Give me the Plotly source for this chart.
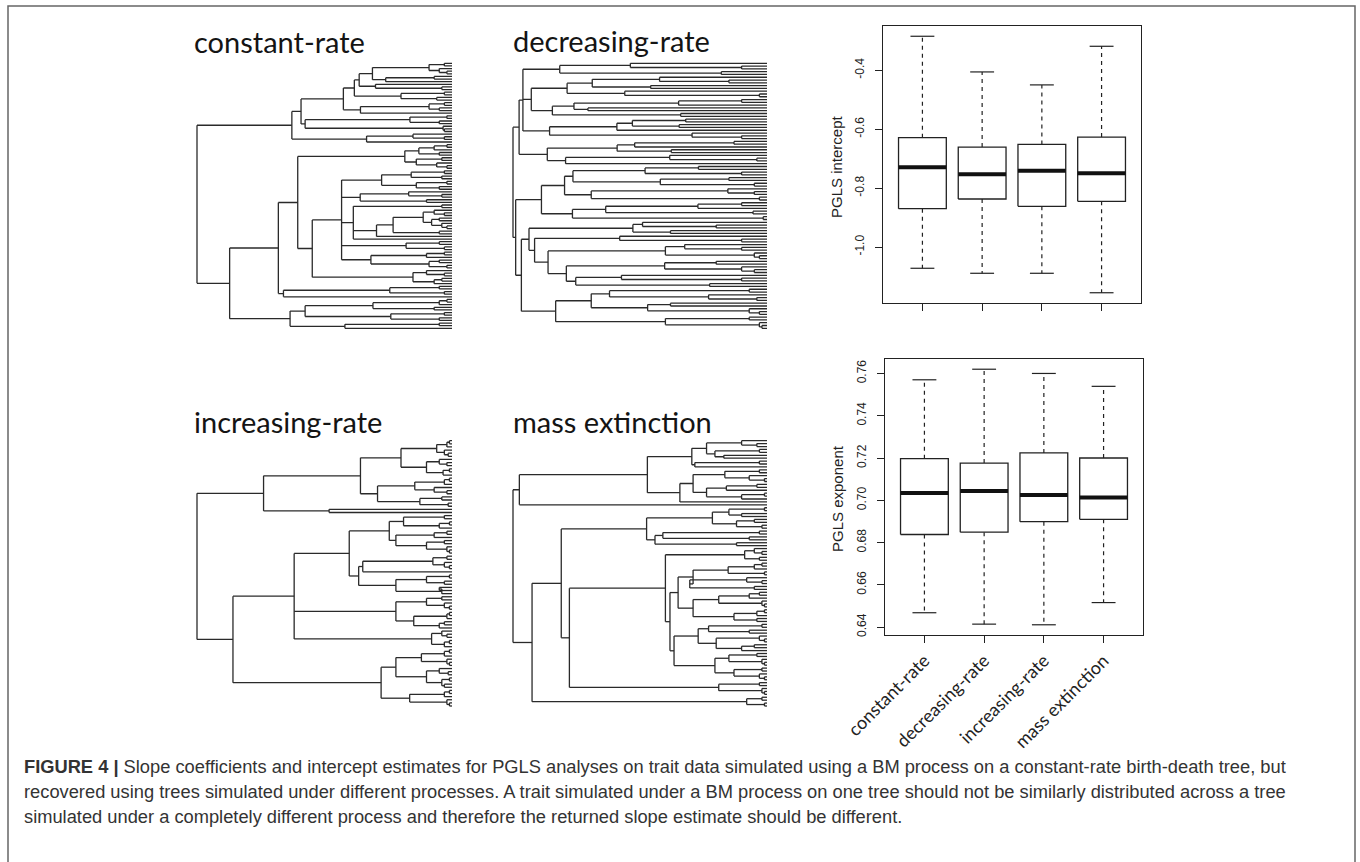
import re
import plotly.graph_objects as go

W, H = 1360, 862

# ------------------------------------------------------------------ data
CATEGORIES = ["constant-rate", "decreasing-rate", "increasing-rate", "mass extinction"]

# PGLS intercept (boxplot statistics)
INTERCEPT_LOW = [-1.072, -1.089, -1.089, -1.155]
INTERCEPT_Q1 = [-0.870, -0.837, -0.862, -0.845]
INTERCEPT_MED = [-0.729, -0.753, -0.741, -0.750]
INTERCEPT_Q3 = [-0.629, -0.661, -0.652, -0.627]
INTERCEPT_HIGH = [-0.285, -0.406, -0.450, -0.319]
INTERCEPT_TICKS = [-1.0, -0.8, -0.6, -0.4]
INTERCEPT_TICKTEXT = ["-1.0", "-0.8", "-0.6", "-0.4"]

# PGLS exponent
EXPONENT_LOW = [0.6468, 0.6414, 0.6411, 0.6516]
EXPONENT_Q1 = [0.6838, 0.6849, 0.6899, 0.6910]
EXPONENT_MED = [0.7035, 0.7044, 0.7025, 0.7013]
EXPONENT_Q3 = [0.7197, 0.7176, 0.7224, 0.7200]
EXPONENT_HIGH = [0.7570, 0.7620, 0.7600, 0.7539]
EXPONENT_TICKS = [0.64, 0.66, 0.68, 0.70, 0.72, 0.74, 0.76]
EXPONENT_TICKTEXT = ["0.64", "0.66", "0.68", "0.70", "0.72", "0.74", "0.76"]

# Trees: newick-like strings, internal node label = node depth (0 = root, 1 = tips)
# constant-rate
CR_Q1 = "((,)0.97,(,(,)0.98)0.95)0.91"
CR_Q2 = "((,)0.93,)0.74"
CR_S = "(,(,)0.96)0.70"
CR_R = "((,)0.97,(,)0.94)0.80"
CR_A1B = "(((,)0.97,(,)0.95)0.91,)0.641"
CR_C = "((,)0.98,(,)0.95)0.835"
CR_D = "(,(,)0.97)0.965"
CR_B = "((,(,)0.97)0.847,)0.665"
CR_M1 = "((((,)0.98,)0.93,(,)0.95)0.87,((,)0.96,(,(,)0.98)0.94)0.86)0.815"
CR_T1 = "(((,)0.97,(,)0.96)0.84,((,)0.98,(,)0.95)0.86)0.724"
CR_T2 = "((,(,)0.96)0.83,(,)0.9)0.64"
CR_X887 = "((,(,)0.97)0.93,((,)0.95,(,(,)0.98)0.96)0.92)0.887"
CR_T4 = "((,)0.95,(,)0.97)0.82"
CR_T5 = "(((,)0.97,)0.9,((,)0.95,(,)0.98)0.91)0.682"
CR_M2B = "((,(,)0.97)0.90,((,)0.96,)0.93)0.847"
CR_N = "(((,)0.95,(,)0.97)0.756,)0.339"
CR_O1 = "((((,)0.98,)0.95,(,)0.93)0.69,((,)0.97,(,)0.95)0.76)0.424"
CR_O2 = "((,)0.95,)0.58"
CR_T3 = f"((,)0.96,(({CR_X887},(,)0.95)0.769,)0.704,)0.613"
CR_UP = (f"(((((({CR_Q1},{CR_Q2})0.688,{CR_S})0.636,{CR_R})0.617,{CR_A1B})0.574,"
         f"({CR_C},{CR_D})0.424)0.408,{CR_B})0.372")
CR_LOW = (f"((({CR_M1},(({CR_T1},{CR_T2},{CR_T3},{CR_T4},{CR_T5})0.567,{CR_M2B})0.452)0.395,"
          f"{CR_N})0.319,({CR_O1},{CR_O2})0.365)0.128")
TREE_CONSTANT = f"({CR_UP},{CR_LOW})0"

# decreasing-rate
DR_C1 = "((,(,)0.9)0.462,(,)0.82)0.184"
DR_C2 = "(((,(,)0.85)0.577,(,)0.542)0.312,(,(,)0.97)0.44)0.213"
DR_C3 = "((((,)0.9,)0.652,(,)0.295)0.24,(,)0.66)0.155"
DR_C4 = "((((,)0.68,(,)0.654)0.47,)0.409,(,(,)0.9)0.705)0.144"
DR_C5 = "((((,)0.87,)0.479,(,)0.623)0.41,((,(,)0.96)0.617,)0.207)0.135"
DR_D1A1 = "(((,)0.73,(,)0.9)0.52,((,)0.85,(,)0.95)0.58)0.236"
DR_D1A2 = "((,(,)0.95)0.846,(,)0.97)0.308"
DR_D1B = "((((,)0.9,)0.728,(,)0.945)0.365,(,)0.985)0.234"
DR_D2A1 = "((,(,)0.8)0.51,(,)0.62)0.472"
DR_D2A2 = "(,(,)0.9)0.42"
DR_D2A3 = "((,(,)0.9)0.676,(,(,)0.97)0.95)0.60"
DR_D2A4 = "(((,)0.8,(,(,)0.95)0.9)0.597,((,(,)0.9)0.427,(,)0.774)0.247)0.21"
DR_D2B1 = "(((,)0.93,(,(,)0.96)0.77)0.38,((,)0.62,(,(,)0.97)0.93)0.53)0.308"
DR_D2B2 = "((,)0.93,(,(,)0.98)0.97)0.6"
DR_UP = f"(({DR_C1},({DR_C2},{DR_C3})0.072,{DR_C4})0.039,{DR_C5})0.024"
DR_D1 = f"(({DR_D1A1},{DR_D1A2})0.203,{DR_D1B})0.112"
DR_D2A = f"({DR_D2A1},({DR_D2A2},({DR_D2A3},{DR_D2A4})0.138)0.085)0.063"
DR_D2 = f"({DR_D2A},({DR_D2B1},{DR_D2B2})0.168)0.033"
TREE_DECREASING = f"({DR_UP},({DR_D1},{DR_D2})0.0105)0"

# increasing-rate
IR_A = "(((,)0.99,)0.98,(,(,)0.985)0.97)0.94"
IR_B = "((,(,)0.98)0.95,((,)0.99,)0.965)0.90"
IR_C = "(((,)0.99,)0.97,(,(,)0.98)0.93)0.854"
IR_D = "((,)0.96,(,)0.985)0.874"
IR_E = "(((,)0.97,((,)0.99,)0.95)0.81,(((,)0.98,)0.93,((,)0.97,(,(,)0.99)0.98)0.9)0.78)0.754"
IR_F = "((((,)0.98,(,(,)0.99)0.97)0.925,)0.65,(((,)0.99,(,)0.97)0.9,((,)0.95,)0.96)0.78)0.634"
IR_G = "(((,)0.96,(,(,)0.99)0.97)0.9,(((,)0.99,)0.98,((,)0.97,)0.95)0.85)0.78"
IR_H = "((,(,)0.98)0.96,((,)0.99,)0.97)0.92"
IR_I = "((((,)0.99,)0.97,(,(,)0.99)0.98)0.88,((,(,)0.985)0.95,((,)0.99,(,)0.97)0.96)0.9)0.78"
IR_J = "(((,)0.99,)0.97,(,(,)0.99)0.98)0.834"
IR_UP = f"((({IR_A},{IR_B})0.80,({IR_C},{IR_D})0.708)0.641,(,)0.518)0.261"
IR_LOW = f"((({IR_E},{IR_F})0.597,{IR_G},{IR_H})0.381,({IR_I},{IR_J})0.722)0.141"
TREE_INCREASING = f"({IR_UP},{IR_LOW})0"

# mass extinction
ME_A = "((,(,)0.96)0.9,((,)0.97,(,)0.83)0.795)0.762"
ME_B = "((,)0.97,)0.716"
ME_C = "(((,)0.97,(,(,)0.99)0.93)0.834,(((,)0.96,)0.84,((,)0.99,)0.9)0.762)0.709"
ME_D = "(((,)0.99,(,)0.9)0.85,((,)0.95,(,)0.98)0.88)0.785"
ME_E = "(((,)0.97,(,)0.93)0.59,(,)0.88)0.559"
ME_F = "((,(,)0.98)0.95,(,)0.97)0.912"
ME_G = "((((,)0.98,)0.95,(,)0.99)0.847,((,(,)0.98)0.92,(,)0.95)0.696)0.709"
ME_H = "((((,)0.97,)0.93,(,(,)0.99)0.98)0.81,(((,)0.99,)0.96,(,)0.96)0.87)0.709"
ME_I = "(((,)0.98,(,)0.93)0.77,((,(,)0.99)0.97,((,)0.95,)0.9)0.8)0.729"
ME_J = "(((,)0.96,(,(,)0.99)0.98)0.85,((,)0.98,(,(,)0.99)0.97)0.87)0.795"
ME_K = "((,)0.97,(,(,)0.99)0.98)0.81"
ME_L = "((,)0.98,(,)0.99)0.92"
ME_UP = f"((({ME_A},{ME_B})0.704,({ME_C},)0.657)0.529,)0.025"
ME_LOW = (f"((({ME_D},{ME_E})0.526,(({ME_F},(({ME_G},{ME_H})0.65,({ME_I},{ME_J})0.634)0.618)0.60,"
          f"{ME_K})0.222)0.19,{ME_L})0.075")
TREE_MASS = f"({ME_UP},{ME_LOW})0"

TREE_TITLES = ["constant-rate", "decreasing-rate", "increasing-rate", "mass extinction"]

CAPTION = [
    "<b>FIGURE 4 |</b> Slope coefficients and intercept estimates for PGLS analyses on trait data "
    "simulated using a BM process on a constant-rate birth-death tree, but",
    "recovered using trees simulated under different processes. A trait simulated under a BM process "
    "on one tree should not be similarly distributed across a tree",
    "simulated under a completely different process and therefore the returned slope estimate should be different.",
]


# ------------------------------------------------------------------ helpers
def parse_newick(s):
    s = re.sub(r"\s+", "", s)
    pos = 0

    def node():
        nonlocal pos
        if pos < len(s) and s[pos] == "(":
            pos += 1
            kids = [node()]
            while s[pos] == ",":
                pos += 1
                kids.append(node())
            assert s[pos] == ")", s[max(0, pos - 20):pos + 20]
            pos += 1
            m = re.match(r"[0-9.]*", s[pos:])
            t = float(m.group()) if m.group() else 0.0
            pos += len(m.group())
            return {"t": t, "kids": kids}
        return None

    root = node()
    assert pos == len(s), s[pos:]
    return root


def tree_segments(root):
    xs, ys = [], []
    count = [0]

    def place(n):
        if n is None:
            y = count[0]
            count[0] += 1
            return 1.0, float(y)
        pos = [place(k) for k in n["kids"]]
        cys = [p[1] for p in pos]
        y0, y1 = min(cys), max(cys)
        xs.extend([n["t"], n["t"], None])
        ys.extend([y0, y1, None])
        for cx, cy in pos:
            xs.extend([n["t"], cx, None])
            ys.extend([cy, cy, None])
        return n["t"], (y0 + y1) / 2.0

    place(root)
    return xs, ys, count[0]


def py(p):
    return 1 - p / H


fig = go.Figure()
LINE = "#2a2a2a"
TITLE_FONT = "Lato, Open Sans, sans-serif"
AX_FONT = "Liberation Sans, Arial, sans-serif"

# ------------------------------------------------------------------ trees
trees = [TREE_CONSTANT, TREE_DECREASING, TREE_INCREASING, TREE_MASS]
# (root_px, tip_px, top_px, bottom_px)
tree_boxes = [(197, 452, 63.3, 328.3), (513, 767, 63.3, 328.3),
              (197, 452, 440.7, 706), (513, 767, 440.7, 706)]
title_pos = [(192, 41.5), (511, 40.5), (192, 421.5), (511, 421.5)]
pad = 5
for k, (tr, box) in enumerate(zip(trees, tree_boxes)):
    xs, ys, n = tree_segments(parse_newick(tr))
    r0, r1, t0, t1 = box
    dx = 1.0 / (r1 - r0)
    dy = (n - 1) / (t1 - t0)
    ax = k + 3
    fig.add_trace(go.Scatter(x=xs, y=ys, mode="lines", line=dict(color=LINE, width=1.3),
                             hoverinfo="skip", showlegend=False,
                             xaxis=f"x{ax}", yaxis=f"y{ax}"))
    hidden = dict(visible=False, fixedrange=True, automargin=False)
    fig.layout[f"xaxis{ax}"] = dict(domain=[(r0 - pad) / W, (r1 + pad) / W],
                                    range=[-pad * dx, 1 + pad * dx], anchor=f"y{ax}", **hidden)
    fig.layout[f"yaxis{ax}"] = dict(domain=[py(t1 + pad), py(t0 - pad)],
                                    range=[n - 1 + pad * dy, -pad * dy], anchor=f"x{ax}", **hidden)
    tx, ty = title_pos[k]
    fig.add_annotation(x=tx / W, y=py(ty), xref="paper", yref="paper", text=TREE_TITLES[k],
                       showarrow=False, xanchor="left", yanchor="middle",
                       font=dict(family=TITLE_FONT, size=29, color="#141414"))


# ------------------------------------------------------------------ boxplots
def add_box(axn, low, q1, med, q3, high):
    bx, by, mx, my, wx, wy, cx, cy = [], [], [], [], [], [], [], []
    for i in range(len(low)):
        c = i + 1
        bx += [c - 0.4, c + 0.4, c + 0.4, c - 0.4, c - 0.4, None]
        by += [q1[i], q1[i], q3[i], q3[i], q1[i], None]
        mx += [c - 0.4, c + 0.4, None]
        my += [med[i], med[i], None]
        wx += [c, c, None, c, c, None]
        wy += [q3[i], high[i], None, q1[i], low[i], None]
        cx += [c - 0.2, c + 0.2, None, c - 0.2, c + 0.2, None]
        cy += [high[i], high[i], None, low[i], low[i], None]
    common = dict(mode="lines", hoverinfo="skip", showlegend=False,
                  xaxis=f"x{axn if axn > 1 else ''}", yaxis=f"y{axn if axn > 1 else ''}")
    fig.add_trace(go.Scatter(x=wx, y=wy, line=dict(color="#222", width=1.2, dash="4px,4px"), **common))
    fig.add_trace(go.Scatter(x=cx, y=cy, line=dict(color="#222", width=1.2), **common))
    fig.add_trace(go.Scatter(x=bx, y=by, line=dict(color="#222", width=1.3), fill="toself",
                             fillcolor="white", **common))
    fig.add_trace(go.Scatter(x=mx, y=my, line=dict(color="#111", width=4), **common))


def yr(low, high):
    lo, hi = min(low), max(high)
    r = hi - lo
    return [lo - 0.04 * r, hi + 0.04 * r]


add_box(1, INTERCEPT_LOW, INTERCEPT_Q1, INTERCEPT_MED, INTERCEPT_Q3, INTERCEPT_HIGH)
add_box(2, EXPONENT_LOW, EXPONENT_Q1, EXPONENT_MED, EXPONENT_Q3, EXPONENT_HIGH)

axis_common = dict(showline=True, mirror=True, linecolor="#222", linewidth=1.3, showgrid=False,
                   zeroline=False, ticks="outside", ticklen=7, tickwidth=1.2, tickcolor="#222",
                   fixedrange=True, automargin=False)
fig.update_layout(
    xaxis=dict(domain=[883 / W, 1141 / W], range=[0.34, 4.66], anchor="y",
               tickvals=[1, 2, 3, 4], showticklabels=False, **axis_common),
    yaxis=dict(domain=[py(303), py(26)], range=yr(INTERCEPT_LOW, INTERCEPT_HIGH), anchor="x",
               tickvals=INTERCEPT_TICKS, ticktext=INTERCEPT_TICKTEXT, tickangle=-90,
               ticklabelstandoff=6, tickfont=dict(family=AX_FONT, size=12, color="#222"),
               **axis_common),
    xaxis2=dict(domain=[885 / W, 1143 / W], range=[0.34, 4.66], anchor="y2",
                tickvals=[1, 2, 3, 4], ticktext=CATEGORIES, tickangle=-45,
                tickfont=dict(family=TITLE_FONT, size=18, color="#222"), **axis_common),
    yaxis2=dict(domain=[py(635), py(359)], range=yr(EXPONENT_LOW, EXPONENT_HIGH), anchor="x2",
                tickvals=EXPONENT_TICKS, ticktext=EXPONENT_TICKTEXT, tickangle=-90,
                ticklabelstandoff=6, tickfont=dict(family=AX_FONT, size=12, color="#222"),
                **axis_common),
)

for txt, yc in [("PGLS intercept", 167), ("PGLS exponent", 499)]:
    fig.add_annotation(x=837 / W, y=py(yc), xref="paper", yref="paper", text=txt, textangle=-90,
                       showarrow=False, xanchor="center", yanchor="middle",
                       font=dict(family=AX_FONT, size=15, color="#222"))

# ------------------------------------------------------------------ caption and frame
for i, line in enumerate(CAPTION):
    fig.add_annotation(x=22 / W, y=py(766 + 25 * i), xref="paper", yref="paper", text=line,
                       showarrow=False, xanchor="left", yanchor="middle",
                       font=dict(family="Liberation Sans Narrow, Arial Narrow, Liberation Sans, sans-serif",
                                 size=18.3, color="#333"))

fig.add_shape(type="rect", xref="paper", yref="paper", x0=8 / W, x1=1355 / W, y0=py(6), y1=-0.05,
              line=dict(color="#666", width=1.5), fillcolor="rgba(0,0,0,0)")

fig.update_layout(width=W, height=H, margin=dict(l=0, r=0, t=0, b=0, pad=0), autosize=False,
                  paper_bgcolor="white", plot_bgcolor="white", showlegend=False)

fig.write_html("out.html",
               post_script="document.body.style.margin='0';document.body.style.padding='0';")
